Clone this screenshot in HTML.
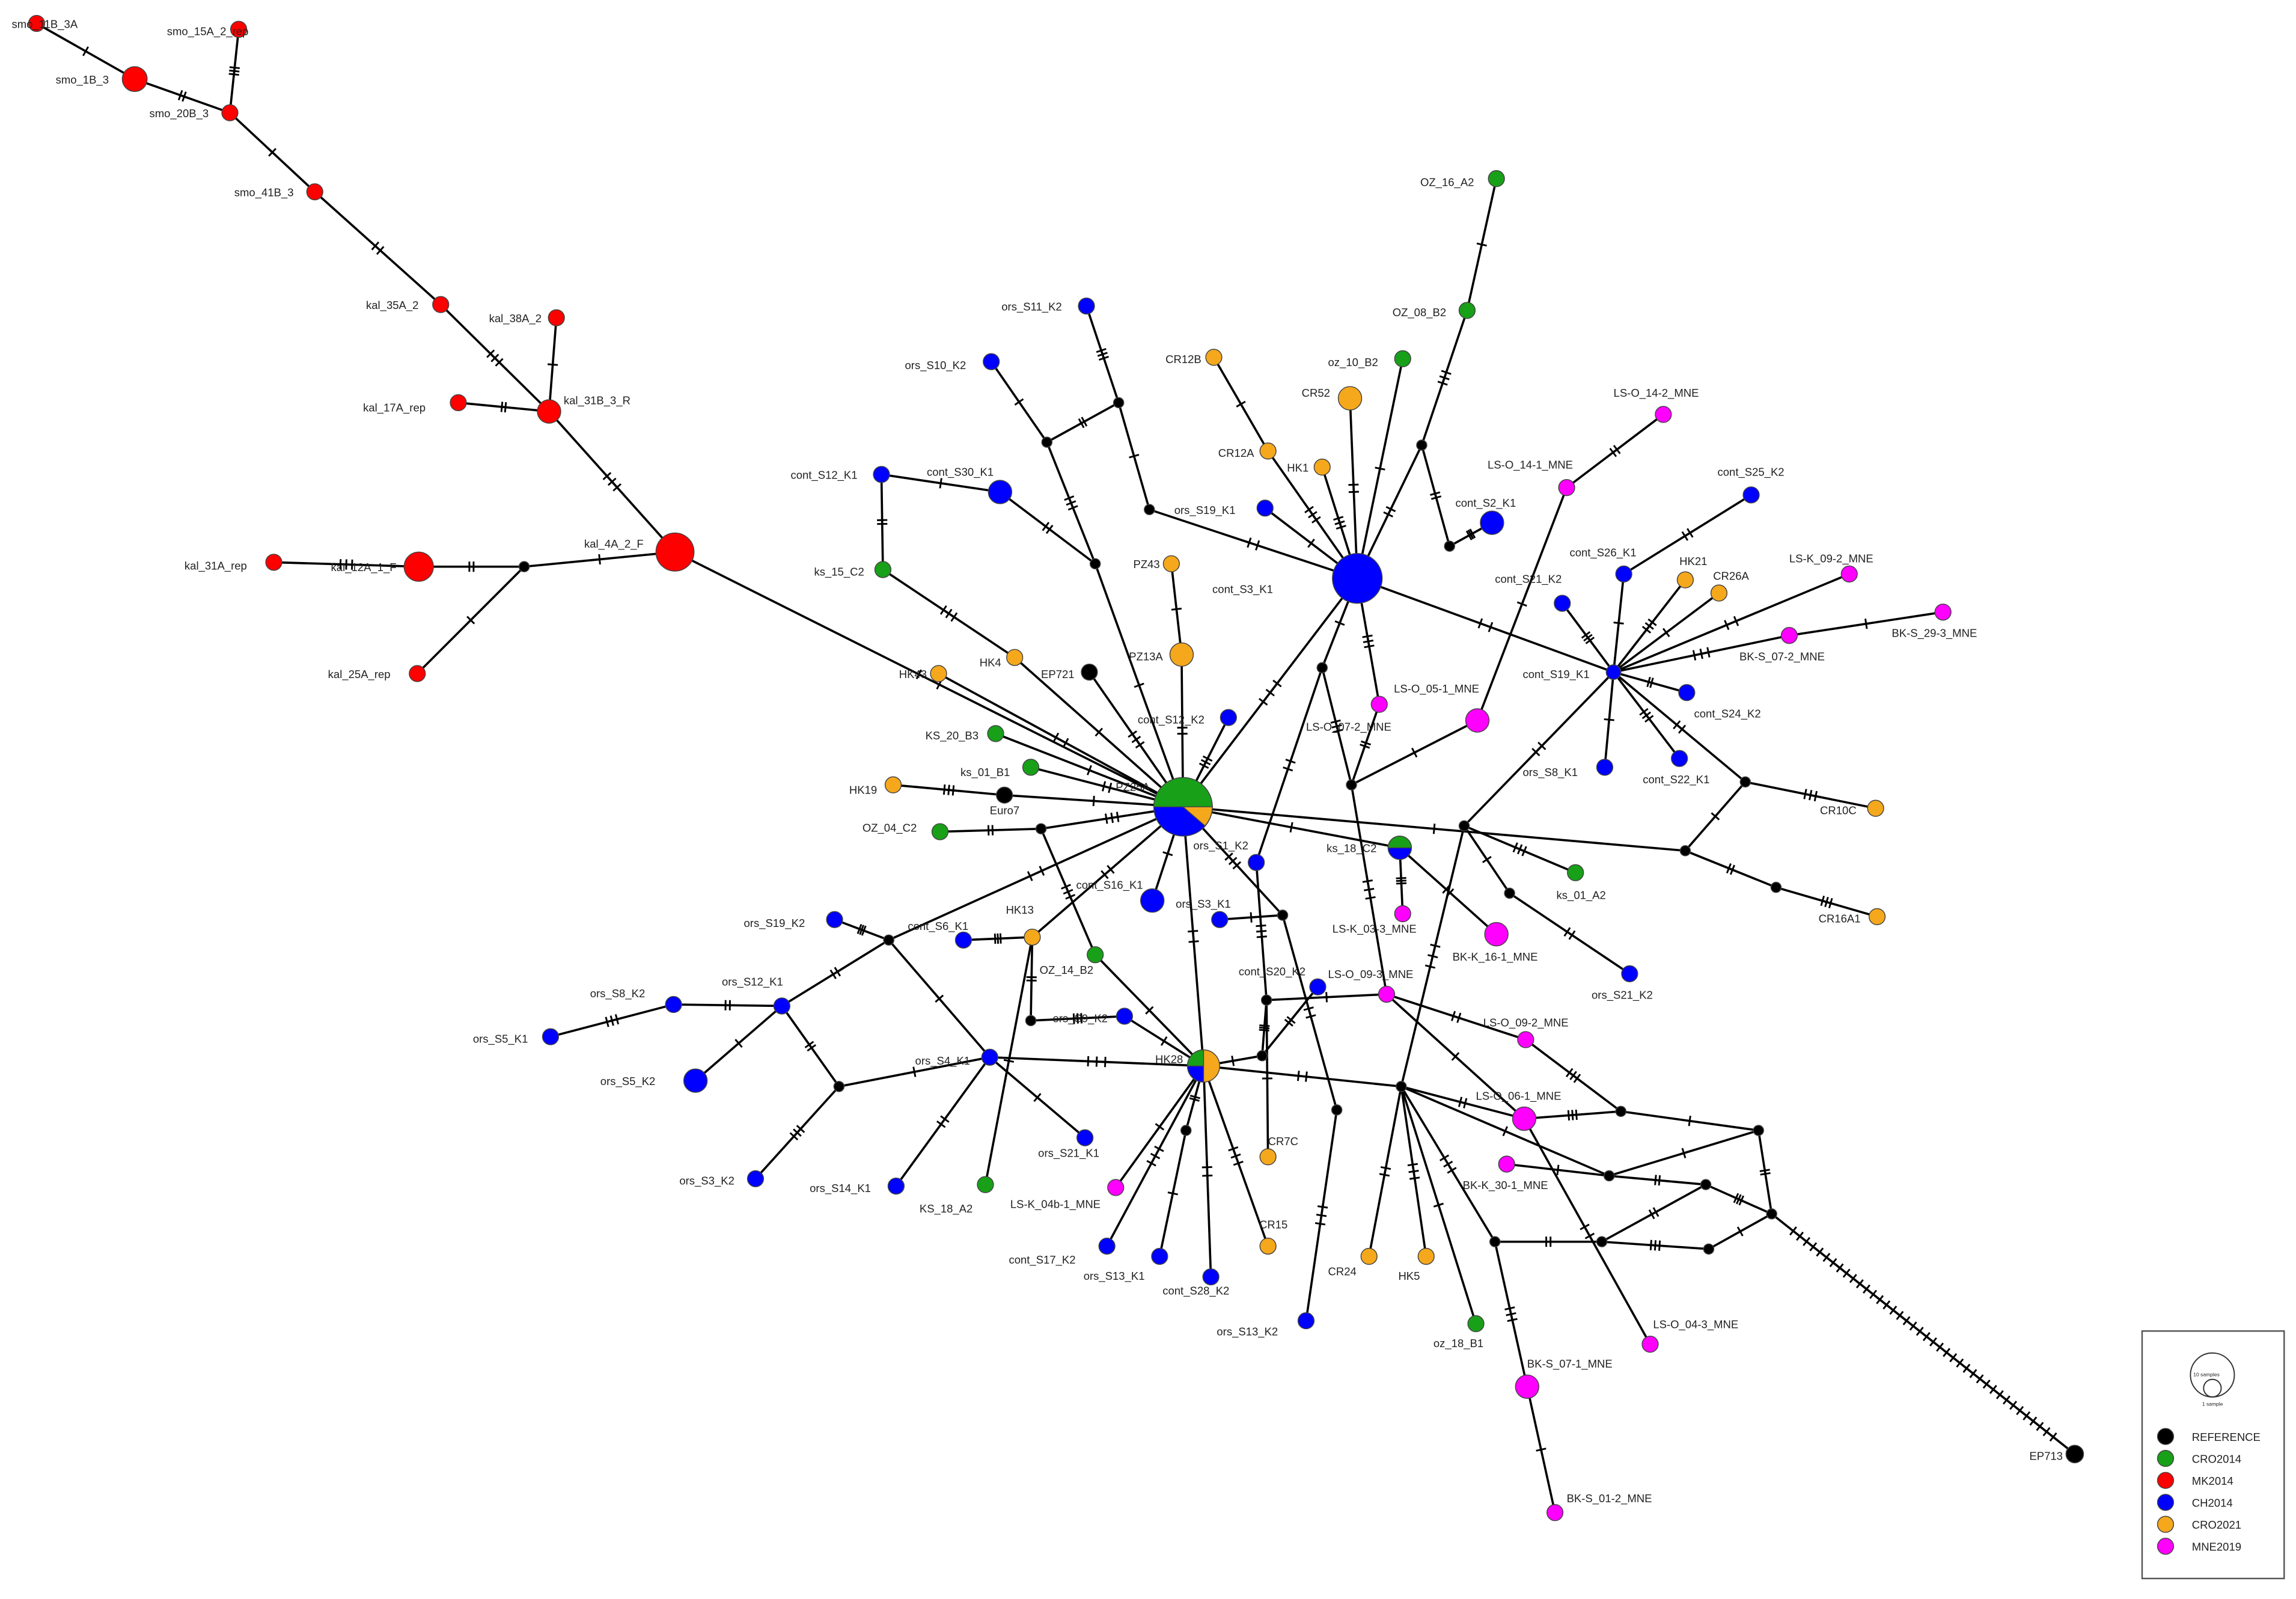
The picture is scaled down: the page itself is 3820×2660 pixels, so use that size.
<!DOCTYPE html>
<html><head><meta charset="utf-8"><style>
html,body{margin:0;padding:0;background:#fff}
svg{display:block}
text{font-family:"Liberation Sans",Arial,sans-serif;font-size:7.6px;fill:#222}
.e{stroke:#000;stroke-width:1.5;fill:none}
.n{stroke:#444;stroke-width:0.6}
</style></head><body>
<svg id="s" width="3820" height="2660" viewBox="0 0 1568.1 1092" preserveAspectRatio="none" xmlns="http://www.w3.org/2000/svg">
<rect width="1568.1" height="1092" fill="#fff"/>
<g id="edges" class="e">
<line x1="25" y1="16" x2="92" y2="54"/><line x1="92" y1="54" x2="157" y2="77"/><line x1="163" y1="20" x2="157" y2="77"/>
<line x1="157" y1="77" x2="215" y2="131"/><line x1="215" y1="131" x2="301" y2="208"/><line x1="301" y1="208" x2="375" y2="281"/>
<line x1="380" y1="217" x2="375" y2="281"/><line x1="313" y1="275" x2="375" y2="281"/><line x1="375" y1="281" x2="461" y2="377"/>
<line x1="461" y1="377" x2="358" y2="387"/><line x1="358" y1="387" x2="286" y2="387"/><line x1="286" y1="387" x2="187" y2="384"/>
<line x1="358" y1="387" x2="285" y2="460"/><line x1="461" y1="377" x2="808" y2="551"/>
<line x1="808" y1="551" x2="927" y2="395"/>
<line x1="602" y1="324" x2="683" y2="336"/><line x1="602" y1="324" x2="603" y2="389"/><line x1="603" y1="389" x2="693" y2="449"/><line x1="693" y1="449" x2="808" y2="551"/>
<line x1="641" y1="460" x2="808" y2="551"/><line x1="744" y1="459" x2="808" y2="551"/><line x1="680" y1="501" x2="808" y2="551"/>
<line x1="704" y1="524" x2="808" y2="551"/><line x1="610" y1="536" x2="686" y2="543"/><line x1="686" y1="543" x2="808" y2="551"/>
<line x1="642" y1="568" x2="711" y2="566"/><line x1="711" y1="566" x2="808" y2="551"/>
<line x1="800" y1="385" x2="807" y2="447"/><line x1="807" y1="447" x2="808" y2="551"/><line x1="839" y1="490" x2="808" y2="551"/>
<line x1="748" y1="385" x2="808" y2="551"/><line x1="748" y1="385" x2="683" y2="336"/><line x1="748" y1="385" x2="715" y2="302"/>
<line x1="715" y1="302" x2="677" y2="247"/><line x1="715" y1="302" x2="764" y2="275"/><line x1="764" y1="275" x2="742" y2="209"/>
<line x1="764" y1="275" x2="785" y2="348"/><line x1="785" y1="348" x2="927" y2="395"/>
<line x1="927" y1="395" x2="866" y2="308"/><line x1="866" y1="308" x2="829" y2="244"/><line x1="927" y1="395" x2="922" y2="272"/>
<line x1="927" y1="395" x2="903" y2="319"/><line x1="927" y1="395" x2="958" y2="245"/><line x1="927" y1="395" x2="971" y2="304"/>
<line x1="971" y1="304" x2="1002" y2="212"/><line x1="1002" y1="212" x2="1022" y2="122"/><line x1="971" y1="304" x2="990" y2="373"/>
<line x1="990" y1="373" x2="1019" y2="357"/><line x1="927" y1="395" x2="864" y2="347"/><line x1="927" y1="395" x2="1102" y2="459"/>
<line x1="927" y1="395" x2="942" y2="481"/><line x1="927" y1="395" x2="903" y2="456"/><line x1="903" y1="456" x2="858" y2="589"/>
<line x1="903" y1="456" x2="923" y2="536"/><line x1="923" y1="536" x2="1009" y2="492"/><line x1="942" y1="481" x2="923" y2="536"/>
<line x1="923" y1="536" x2="947" y2="679"/>
<line x1="1009" y1="492" x2="1070" y2="333"/><line x1="1070" y1="333" x2="1136" y2="283"/>
<line x1="1102" y1="459" x2="1067" y2="412"/><line x1="1102" y1="459" x2="1109" y2="392"/><line x1="1109" y1="392" x2="1196" y2="338"/>
<line x1="1102" y1="459" x2="1151" y2="396"/><line x1="1102" y1="459" x2="1174" y2="405"/><line x1="1102" y1="459" x2="1263" y2="392"/>
<line x1="1102" y1="459" x2="1222" y2="434"/><line x1="1222" y1="434" x2="1327" y2="418"/><line x1="1102" y1="459" x2="1152" y2="473"/>
<line x1="1102" y1="459" x2="1147" y2="518"/><line x1="1102" y1="459" x2="1096" y2="524"/><line x1="1102" y1="459" x2="1192" y2="534"/>
<line x1="1192" y1="534" x2="1281" y2="552"/><line x1="1192" y1="534" x2="1151" y2="581"/><line x1="1151" y1="581" x2="1213" y2="606"/>
<line x1="1213" y1="606" x2="1282" y2="626"/><line x1="808" y1="551" x2="1151" y2="581"/>
<line x1="1102" y1="459" x2="1000" y2="564"/><line x1="1000" y1="564" x2="1076" y2="596"/><line x1="1000" y1="564" x2="1031" y2="610"/>
<line x1="1031" y1="610" x2="1113" y2="665"/><line x1="1000" y1="564" x2="957" y2="742"/>
<line x1="808" y1="551" x2="956" y2="579"/><line x1="956" y1="579" x2="1022" y2="638"/><line x1="956" y1="579" x2="958" y2="624"/>
<line x1="808" y1="551" x2="787" y2="615"/><line x1="808" y1="551" x2="822" y2="728"/><line x1="808" y1="551" x2="876" y2="625"/>
<line x1="833" y1="628" x2="876" y2="625"/>
<line x1="808" y1="551" x2="607" y2="642"/><line x1="607" y1="642" x2="570" y2="628"/><line x1="607" y1="642" x2="676" y2="722"/>
<line x1="534" y1="687" x2="460" y2="686"/><line x1="460" y1="686" x2="376" y2="708"/><line x1="534" y1="687" x2="475" y2="738"/>
<line x1="534" y1="687" x2="573" y2="742"/><line x1="573" y1="742" x2="516" y2="805"/><line x1="573" y1="742" x2="676" y2="722"/>
<line x1="676" y1="722" x2="612" y2="810"/><line x1="676" y1="722" x2="822" y2="728"/><line x1="676" y1="722" x2="741" y2="777"/>
<line x1="607" y1="642" x2="534" y2="687"/>
<line x1="711" y1="566" x2="748" y2="652"/><line x1="748" y1="652" x2="822" y2="728"/><line x1="808" y1="551" x2="705" y2="640"/>
<line x1="705" y1="640" x2="658" y2="642"/><line x1="705" y1="640" x2="673" y2="809"/><line x1="705" y1="640" x2="704" y2="697"/>
<line x1="704" y1="697" x2="768" y2="694"/><line x1="768" y1="694" x2="822" y2="728"/>
<line x1="822" y1="728" x2="810" y2="772"/><line x1="822" y1="728" x2="756" y2="851"/><line x1="810" y1="772" x2="792" y2="858"/>
<line x1="822" y1="728" x2="827" y2="872"/><line x1="822" y1="728" x2="866" y2="851"/><line x1="822" y1="728" x2="862" y2="721"/>
<line x1="862" y1="721" x2="900" y2="674"/><line x1="862" y1="721" x2="865" y2="683"/><line x1="822" y1="728" x2="762" y2="811"/>
<line x1="822" y1="728" x2="957" y2="742"/><line x1="858" y1="589" x2="865" y2="683"/><line x1="865" y1="683" x2="866" y2="790"/>
<line x1="876" y1="625" x2="913" y2="758"/><line x1="913" y1="758" x2="892" y2="902"/><line x1="865" y1="683" x2="947" y2="679"/>
<line x1="957" y1="742" x2="935" y2="858"/><line x1="957" y1="742" x2="974" y2="858"/><line x1="957" y1="742" x2="1008" y2="904"/>
<line x1="957" y1="742" x2="1041" y2="764"/><line x1="957" y1="742" x2="1021" y2="848"/><line x1="957" y1="742" x2="1099" y2="803"/>
<line x1="947" y1="679" x2="1042" y2="710"/><line x1="1042" y1="710" x2="1107" y2="759"/><line x1="947" y1="679" x2="1041" y2="764"/>
<line x1="1041" y1="764" x2="1127" y2="918"/><line x1="1041" y1="764" x2="1107" y2="759"/><line x1="1107" y1="759" x2="1201" y2="772"/>
<line x1="1201" y1="772" x2="1210" y2="829"/><line x1="1210" y1="829" x2="1417" y2="993"/><line x1="1099" y1="803" x2="1201" y2="772"/>
<line x1="1099" y1="803" x2="1165" y2="809"/><line x1="1165" y1="809" x2="1210" y2="829"/><line x1="1029" y1="795" x2="1099" y2="803"/>
<line x1="1021" y1="848" x2="1094" y2="848"/><line x1="1094" y1="848" x2="1167" y2="853"/><line x1="1167" y1="853" x2="1210" y2="829"/>
<line x1="1094" y1="848" x2="1165" y2="809"/>
<line x1="1021" y1="848" x2="1043" y2="947"/><line x1="1043" y1="947" x2="1062" y2="1033"/>
</g>
<g id="ticks" stroke="#000" stroke-width="1.2"></g>
<g class="n">
<g fill="#ff0000">
<circle cx="25" cy="16" r="5.5"/><circle cx="163" cy="20" r="5.5"/><circle cx="92" cy="54" r="8.5"/><circle cx="157" cy="77" r="5.5"/>
<circle cx="215" cy="131" r="5.5"/><circle cx="301" cy="208" r="5.5"/><circle cx="380" cy="217" r="5.5"/><circle cx="313" cy="275" r="5.5"/>
<circle cx="375" cy="281" r="8"/><circle cx="461" cy="377" r="13"/><circle cx="187" cy="384" r="5.5"/><circle cx="286" cy="387" r="10"/>
<circle cx="285" cy="460" r="5.5"/></g>
<g fill="#000">
<circle cx="358" cy="387" r="3.5"/><circle cx="744" cy="459" r="5.5"/><circle cx="686" cy="543" r="5.5"/><circle cx="1417" cy="993" r="6"/>
<circle cx="711" cy="566" r="3.5"/><circle cx="764" cy="275" r="3.5"/><circle cx="715" cy="302" r="3.5"/><circle cx="748" cy="385" r="3.5"/>
<circle cx="785" cy="348" r="3.5"/><circle cx="971" cy="304" r="3.5"/><circle cx="990" cy="373" r="3.5"/><circle cx="903" cy="456" r="3.5"/>
<circle cx="923" cy="536" r="3.5"/><circle cx="1192" cy="534" r="3.5"/><circle cx="1151" cy="581" r="3.5"/><circle cx="1213" cy="606" r="3.5"/>
<circle cx="1000" cy="564" r="3.5"/><circle cx="1031" cy="610" r="3.5"/><circle cx="876" cy="625" r="3.5"/><circle cx="607" cy="642" r="3.5"/>
<circle cx="573" cy="742" r="3.5"/><circle cx="704" cy="697" r="3.5"/><circle cx="865" cy="683" r="3.5"/><circle cx="862" cy="721" r="3.5"/>
<circle cx="810" cy="772" r="3.5"/><circle cx="913" cy="758" r="3.5"/><circle cx="957" cy="742" r="3.5"/><circle cx="1021" cy="848" r="3.5"/>
<circle cx="1107" cy="759" r="3.5"/><circle cx="1201" cy="772" r="3.5"/><circle cx="1099" cy="803" r="3.5"/><circle cx="1165" cy="809" r="3.5"/>
<circle cx="1094" cy="848" r="3.5"/><circle cx="1167" cy="853" r="3.5"/><circle cx="1210" cy="829" r="3.5"/></g>
<g fill="#0000ff">
<circle cx="927" cy="395" r="17"/><circle cx="742" cy="209" r="5.5"/><circle cx="677" cy="247" r="5.5"/><circle cx="602" cy="324" r="5.5"/>
<circle cx="683" cy="336" r="8"/><circle cx="839" cy="490" r="5.5"/><circle cx="864" cy="347" r="5.5"/><circle cx="1019" cy="357" r="8"/>
<circle cx="1196" cy="338" r="5.5"/><circle cx="1109" cy="392" r="5.5"/><circle cx="1067" cy="412" r="5.5"/><circle cx="1102" cy="459" r="5"/>
<circle cx="1152" cy="473" r="5.5"/><circle cx="1147" cy="518" r="5.5"/><circle cx="1096" cy="524" r="5.5"/><circle cx="1113" cy="665" r="5.5"/>
<circle cx="858" cy="589" r="5.5"/><circle cx="787" cy="615" r="8"/><circle cx="833" cy="628" r="5.5"/><circle cx="658" cy="642" r="5.5"/>
<circle cx="570" cy="628" r="5.5"/><circle cx="534" cy="687" r="5.5"/><circle cx="460" cy="686" r="5.5"/><circle cx="376" cy="708" r="5.5"/>
<circle cx="475" cy="738" r="8"/><circle cx="516" cy="805" r="5.5"/><circle cx="676" cy="722" r="5.5"/><circle cx="612" cy="810" r="5.5"/>
<circle cx="768" cy="694" r="5.5"/><circle cx="900" cy="674" r="5.5"/><circle cx="741" cy="777" r="5.5"/><circle cx="756" cy="851" r="5.5"/>
<circle cx="792" cy="858" r="5.5"/><circle cx="827" cy="872" r="5.5"/><circle cx="892" cy="902" r="5.5"/></g>
<g fill="#18a018">
<circle cx="1022" cy="122" r="5.5"/><circle cx="1002" cy="212" r="5.5"/><circle cx="958" cy="245" r="5.5"/><circle cx="603" cy="389" r="5.5"/>
<circle cx="680" cy="501" r="5.5"/><circle cx="704" cy="524" r="5.5"/><circle cx="642" cy="568" r="5.5"/><circle cx="1076" cy="596" r="5.5"/>
<circle cx="748" cy="652" r="5.5"/><circle cx="673" cy="809" r="5.5"/><circle cx="1008" cy="904" r="5.5"/></g>
<g fill="#f5a81c">
<circle cx="829" cy="244" r="5.5"/><circle cx="866" cy="308" r="5.5"/><circle cx="922" cy="272" r="8"/><circle cx="903" cy="319" r="5.5"/>
<circle cx="800" cy="385" r="5.5"/><circle cx="807" cy="447" r="8"/><circle cx="693" cy="449" r="5.5"/><circle cx="641" cy="460" r="5.5"/>
<circle cx="610" cy="536" r="5.5"/><circle cx="1151" cy="396" r="5.5"/><circle cx="1174" cy="405" r="5.5"/><circle cx="1281" cy="552" r="5.5"/>
<circle cx="1282" cy="626" r="5.5"/><circle cx="705" cy="640" r="5.5"/><circle cx="866" cy="790" r="5.5"/><circle cx="866" cy="851" r="5.5"/>
<circle cx="935" cy="858" r="5.5"/><circle cx="974" cy="858" r="5.5"/></g>
<g fill="#ff00ff">
<circle cx="1136" cy="283" r="5.5"/><circle cx="1070" cy="333" r="5.5"/><circle cx="1263" cy="392" r="5.5"/><circle cx="1327" cy="418" r="5.5"/>
<circle cx="1222" cy="434" r="5.5"/><circle cx="1009" cy="492" r="8"/><circle cx="942" cy="481" r="5.5"/><circle cx="1022" cy="638" r="8"/>
<circle cx="958" cy="624" r="5.5"/><circle cx="947" cy="679" r="5.5"/><circle cx="1042" cy="710" r="5.5"/><circle cx="1041" cy="764" r="8"/>
<circle cx="1029" cy="795" r="5.5"/><circle cx="762" cy="811" r="5.5"/><circle cx="1127" cy="918" r="5.5"/><circle cx="1043" cy="947" r="8"/>
<circle cx="1062" cy="1033" r="5.5"/></g>
</g>
<!-- pies -->
<g stroke="#444" stroke-width="0.6">
<circle cx="808" cy="551" r="20" fill="#0000ff"/>
<path d="M808,551 L788,551 A20,20 0 0 1 828,551 Z" fill="#18a018"/>
<path d="M808,551 L828,551 A20,20 0 0 1 823,564 Z" fill="#f5a81c"/>
<circle cx="956" cy="579" r="8" fill="#0000ff"/>
<path d="M948,579 A8,8 0 0 1 964,579 Z" fill="#18a018"/>
<circle cx="822" cy="728" r="11" fill="#f5a81c"/>
<path d="M822,728 L822,717 A11,11 0 0 0 811,728 Z" fill="#18a018"/>
<path d="M822,728 L811,728 A11,11 0 0 0 822,739 Z" fill="#0000ff"/>
</g>
<g>
<text x="8" y="19">smo_11B_3A</text><text x="114" y="24">smo_15A_2_rep</text><text x="38" y="57">smo_1B_3</text>
<text x="102" y="80">smo_20B_3</text><text x="160" y="134">smo_41B_3</text><text x="250" y="211">kal_35A_2</text>
<text x="334" y="220">kal_38A_2</text><text x="248" y="281">kal_17A_rep</text><text x="385" y="276">kal_31B_3_R</text>
<text x="399" y="374">kal_4A_2_F</text><text x="126" y="389">kal_31A_rep</text><text x="226" y="390">kal_12A_1_F</text>
<text x="224" y="463">kal_25A_rep</text>
<text x="970" y="127">OZ_16_A2</text><text x="951" y="216">OZ_08_B2</text><text x="907" y="250">oz_10_B2</text>
<text x="684" y="212">ors_S11_K2</text><text x="618" y="252">ors_S10_K2</text><text x="796" y="248">CR12B</text>
<text x="832" y="312">CR12A</text><text x="889" y="271">CR52</text><text x="879" y="322">HK1</text>
<text x="802" y="351">ors_S19_K1</text><text x="540" y="327">cont_S12_K1</text><text x="633" y="325">cont_S30_K1</text>
<text x="994" y="346">cont_S2_K1</text><text x="1102" y="271">LS-O_14-2_MNE</text><text x="1016" y="320">LS-O_14-1_MNE</text>
<text x="1173" y="325">cont_S25_K2</text><text x="1072" y="380">cont_S26_K1</text><text x="1021" y="398">cont_S21_K2</text>
<text x="1147" y="386">HK21</text><text x="1170" y="396">CR26A</text><text x="1222" y="384">LS-K_09-2_MNE</text>
<text x="1292" y="435">BK-S_29-3_MNE</text><text x="1188" y="451">BK-S_07-2_MNE</text><text x="828" y="405">cont_S3_K1</text>
<text x="1040" y="463">cont_S19_K1</text><text x="1157" y="490">cont_S24_K2</text><text x="1122" y="535">cont_S22_K1</text>
<text x="1040" y="530">ors_S8_K1</text><text x="952" y="473">LS-O_05-1_MNE</text><text x="892" y="499">LS-O_07-2_MNE</text>
<text x="774" y="388">PZ43</text><text x="771" y="451">PZ13A</text><text x="711" y="463">EP721</text>
<text x="614" y="463">HK43</text><text x="669" y="455">HK4</text><text x="556" y="393">ks_15_C2</text>
<text x="632" y="505">KS_20_B3</text><text x="656" y="530">ks_01_B1</text><text x="580" y="542">HK19</text>
<text x="676" y="556">Euro7</text><text x="589" y="568">OZ_04_C2</text><text x="777" y="494">cont_S12_K2</text>
<text x="762" y="540">PZ25A</text><text x="815" y="580">ors_S1_K2</text><text x="906" y="582">ks_18_C2</text>
<text x="1063" y="614">ks_01_A2</text><text x="1242" y="630">CR16A1</text><text x="1243" y="556">CR10C</text>
<text x="910" y="637">LS-K_03-3_MNE</text><text x="992" y="656">BK-K_16-1_MNE</text><text x="1087" y="682">ors_S21_K2</text>
<text x="735" y="607">cont_S16_K1</text><text x="803" y="620">ors_S3_K1</text><text x="687" y="624">HK13</text>
<text x="620" y="635">cont_S6_K1</text><text x="508" y="633">ors_S19_K2</text><text x="710" y="665">OZ_14_B2</text>
<text x="493" y="673">ors_S12_K1</text><text x="403" y="681">ors_S8_K2</text><text x="323" y="712">ors_S5_K1</text>
<text x="410" y="741">ors_S5_K2</text><text x="464" y="809">ors_S3_K2</text><text x="625" y="727">ors_S4_K1</text>
<text x="553" y="814">ors_S14_K1</text><text x="628" y="828">KS_18_A2</text><text x="719" y="698">ors_S9_K2</text>
<text x="846" y="666">cont_S20_K2</text><text x="907" y="668">LS-O_09-3_MNE</text><text x="1013" y="701">LS-O_09-2_MNE</text>
<text x="1008" y="751">LS-O_06-1_MNE</text><text x="789" y="726">HK28</text><text x="709" y="790">ors_S21_K1</text>
<text x="690" y="825">LS-K_04b-1_MNE</text><text x="866" y="782">CR7C</text><text x="860" y="839">CR15</text>
<text x="689" y="863">cont_S17_K2</text><text x="740" y="874">ors_S13_K1</text><text x="794" y="884">cont_S28_K2</text>
<text x="831" y="912">ors_S13_K2</text><text x="907" y="871">CR24</text><text x="955" y="874">HK5</text>
<text x="979" y="920">oz_18_B1</text><text x="999" y="812">BK-K_30-1_MNE</text><text x="1043" y="934">BK-S_07-1_MNE</text>
<text x="1070" y="1026">BK-S_01-2_MNE</text><text x="1129" y="907">LS-O_04-3_MNE</text><text x="1386" y="997">EP713</text>
</g>
<g>
<rect x="1463" y="909" width="97" height="169" fill="#fff" stroke="#555" stroke-width="1"/>
<circle cx="1511" cy="939" r="15" fill="none" stroke="#333" stroke-width="0.8"/>
<circle cx="1511" cy="948" r="6" fill="none" stroke="#333" stroke-width="0.8"/>
<text x="1498" y="940" style="font-size:3.5px">10 samples</text>
<text x="1504" y="960" style="font-size:3.5px">1 sample</text>
<g stroke="#444" stroke-width="0.6">
<circle cx="1479" cy="981" r="5.5" fill="#000"/><circle cx="1479" cy="996" r="5.5" fill="#18a018"/>
<circle cx="1479" cy="1011" r="5.5" fill="#ff0000"/><circle cx="1479" cy="1026" r="5.5" fill="#0000ff"/>
<circle cx="1479" cy="1041" r="5.5" fill="#f5a81c"/><circle cx="1479" cy="1056" r="5.5" fill="#ff00ff"/>
</g>
<text x="1497" y="984">REFERENCE</text><text x="1497" y="999">CRO2014</text><text x="1497" y="1014">MK2014</text>
<text x="1497" y="1029">CH2014</text><text x="1497" y="1044">CRO2021</text><text x="1497" y="1059">MNE2019</text>
</g>
</svg>
<script>
(function(){
var g=document.getElementById('ticks'),ls=document.querySelectorAll('#edges line'),ns='http://www.w3.org/2000/svg';
ls.forEach(function(l,i){
var x1=+l.getAttribute('x1'),y1=+l.getAttribute('y1'),x2=+l.getAttribute('x2'),y2=+l.getAttribute('y2');
var dx=x2-x1,dy=y2-y1,L=Math.hypot(dx,dy);if(L<30)return;
var n=(i%3)+1;if(x2==1417)n=40;
var ux=dx/L,uy=dy/L,px=-uy*3.5,py=ux*3.5;
for(var k=0;k<n;k++){var t=0.5+(k-(n-1)/2)*(x2==1417?0.022:0.04);
var cx=x1+dx*t,cy=y1+dy*t,e=document.createElementNS(ns,'line');
e.setAttribute('x1',cx-px);e.setAttribute('y1',cy-py);e.setAttribute('x2',cx+px);e.setAttribute('y2',cy+py);g.appendChild(e);}
});})();
</script>
</body></html>
